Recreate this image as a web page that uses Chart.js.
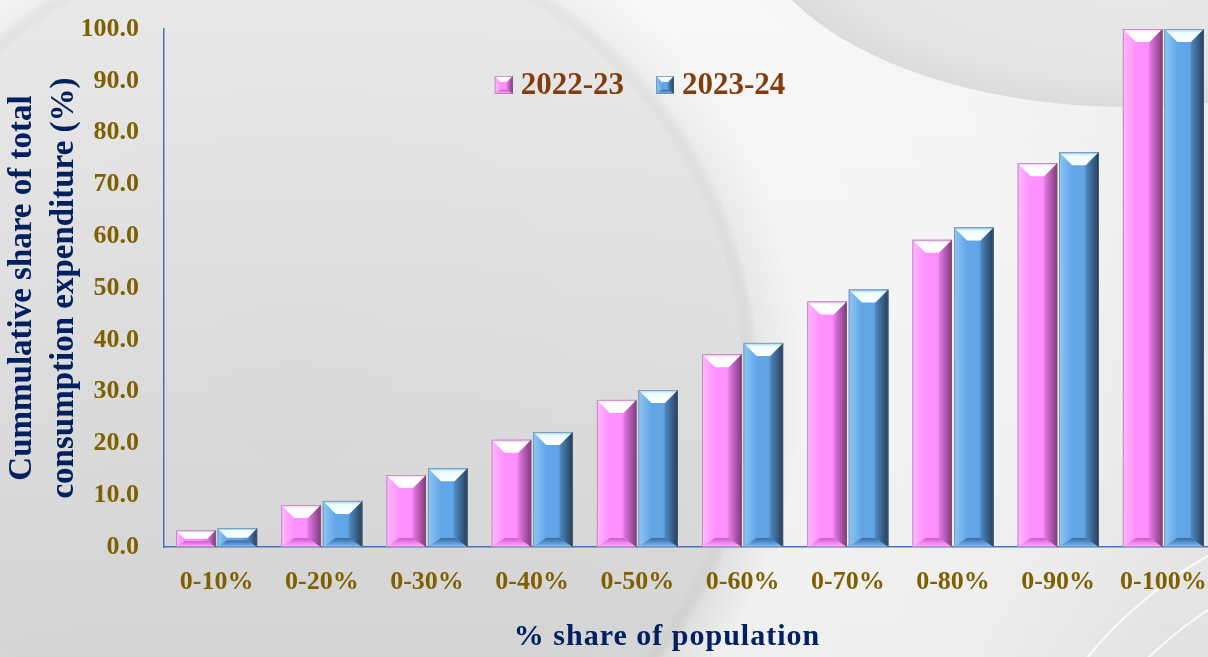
<!DOCTYPE html>
<html>
<head>
<meta charset="utf-8">
<script src="https://cdn.jsdelivr.net/npm/chart.js@4.4.0/dist/chart.umd.min.js"></script>
<style>
  html, body { margin: 0; padding: 0; overflow: hidden; background: #e6e6e6; }
  #wrap { position: relative; width: 1220px; height: 657px; }
</style>
</head>
<body>
<div id="wrap"><canvas id="chart"></canvas></div>
<script>
// data
var categories = ["0-10%", "0-20%", "0-30%", "0-40%", "0-50%", "0-60%", "0-70%", "0-80%", "0-90%", "0-100%"];
var share2022 = [3.2, 8.1, 13.9, 20.7, 28.4, 37.2, 47.4, 59.3, 74.1, 100.0];
var share2023 = [3.6, 8.9, 15.2, 22.2, 30.3, 39.4, 49.7, 61.7, 76.2, 100.0];
var seriesNames = ["2022-23", "2023-24"];
var yTitle = ["Cummulative share of total", "consumption expenditure (%)"];
var xTitle = "% share of population";

var SERIF = '"Liberation Serif", "Times New Roman", serif';
var TICK_COLOR = "#7f6000";
var TITLE_COLOR = "#002060";
var LEGEND_COLOR = "#843c0c";
var AXIS_COLOR = "#4472c4";

var PINK = { base: "#ff90ff", light: "#ffb8ff", mid: "#e87ae8", dark: "#7e3a7a", bottom: "#c060c0", top: "#ffffff" };
var BLUE = { base: "#62a6e8", light: "#8ec6f4", mid: "#4f88c2", dark: "#263f5a", bottom: "#3c6896", top: "#eafcff" };

function bevel(ctx, x0, y0, x1, y1, pal, b) {
    var w = x1 - x0, h = y1 - y0;
    if (w <= 0 || h <= 0) return;
    b = Math.min(b, w / 3, h / 2);
    var bb = b * 0.7;
    var g;

    // face
    g = ctx.createLinearGradient(x0, 0, x1, 0);
    g.addColorStop(0, pal.light);
    g.addColorStop(0.15, pal.base);
    g.addColorStop(0.6, pal.base);
    g.addColorStop(0.8, pal.mid);
    g.addColorStop(1, pal.dark);
    ctx.fillStyle = g;
    ctx.fillRect(x0, y0, w, h);

    // left facet
    g = ctx.createLinearGradient(x0, 0, x0 + b, 0);
    g.addColorStop(0, pal.light);
    g.addColorStop(1, pal.base);
    ctx.fillStyle = g;
    ctx.beginPath();
    ctx.moveTo(x0, y0); ctx.lineTo(x0 + b, y0 + b); ctx.lineTo(x0 + b, y1 - bb); ctx.lineTo(x0, y1);
    ctx.closePath(); ctx.fill();

    // right facet
    g = ctx.createLinearGradient(x1 - b, 0, x1, 0);
    g.addColorStop(0, pal.mid);
    g.addColorStop(1, pal.dark);
    ctx.fillStyle = g;
    ctx.beginPath();
    ctx.moveTo(x1, y0); ctx.lineTo(x1 - b, y0 + b); ctx.lineTo(x1 - b, y1 - bb); ctx.lineTo(x1, y1);
    ctx.closePath(); ctx.fill();

    // bottom facet
    g = ctx.createLinearGradient(0, y1 - bb, 0, y1);
    g.addColorStop(0, pal.bottom);
    g.addColorStop(0.7, pal.base);
    g.addColorStop(1, pal.light);
    ctx.fillStyle = g;
    ctx.beginPath();
    ctx.moveTo(x0, y1); ctx.lineTo(x1, y1); ctx.lineTo(x1 - b, y1 - bb); ctx.lineTo(x0 + b, y1 - bb);
    ctx.closePath(); ctx.fill();

    // top facet
    g = ctx.createLinearGradient(0, y0, 0, y0 + b);
    g.addColorStop(0, pal.light);
    g.addColorStop(0.25, pal.top);
    g.addColorStop(1, "#ffffff");
    ctx.fillStyle = g;
    ctx.beginPath();
    ctx.moveTo(x0, y0); ctx.lineTo(x1, y0); ctx.lineTo(x1 - b, y0 + b); ctx.lineTo(x0 + b, y0 + b);
    ctx.closePath(); ctx.fill();

    ctx.strokeStyle = "rgba(110,110,110,0.6)";
    ctx.lineWidth = 0.8;
    ctx.strokeRect(x0 + 0.4, y0 + 0.4, w - 0.8, h - 0.8);
}

var backdrop = {
    id: "backdrop",
    beforeDraw: function (chart) {
        var ctx = chart.ctx, W = chart.width, H = chart.height, g;
        ctx.save();
        g = ctx.createLinearGradient(0, 0, 0, H);
        g.addColorStop(0, "#ededed");
        g.addColorStop(1, "#d9d9d9");
        ctx.fillStyle = g;
        ctx.fillRect(0, 0, W, H);

        // big soft sphere on the left, lighter outside it
        g = ctx.createRadialGradient(300, 380, 0, 300, 380, 900);
        g.addColorStop(0, "rgba(0,0,0,0.03)");
        g.addColorStop(0.49, "rgba(0,0,0,0.02)");
        g.addColorStop(0.51, "rgba(255,255,255,0.15)");
        g.addColorStop(0.56, "rgba(255,255,255,0.6)");
        g.addColorStop(0.8, "rgba(255,255,255,0.55)");
        g.addColorStop(1, "rgba(255,255,255,0.25)");
        ctx.fillStyle = g;
        ctx.fillRect(0, 0, W, H);

        // grey lobe top right
        ctx.save();
        ctx.translate(1130, -90);
        ctx.scale(380 / 197, 1);
        g = ctx.createRadialGradient(0, 0, 0, 0, 0, 197);
        g.addColorStop(0, "#ebebeb");
        g.addColorStop(0.85, "#e4e4e4");
        g.addColorStop(1, "#dbdbdb");
        ctx.fillStyle = g;
        ctx.beginPath();
        ctx.arc(0, 0, 197, 0, Math.PI * 2);
        ctx.fill();
        ctx.restore();

        // thin white arcs bottom right
        ctx.strokeStyle = "rgba(255,255,255,0.85)";
        ctx.lineWidth = 2;
        ctx.beginPath();
        ctx.arc(1420, 930, 430, Math.PI * 1.02, Math.PI * 1.5);
        ctx.stroke();
        ctx.beginPath();
        ctx.arc(1440, 960, 420, Math.PI * 1.02, Math.PI * 1.5);
        ctx.stroke();
        ctx.restore();
    }
};

var bevelBars = {
    id: "bevelBars",
    afterDatasetsDraw: function (chart) {
        var ctx = chart.ctx;
        var pals = [PINK, BLUE];
        ctx.save();
        chart.data.datasets.forEach(function (ds, i) {
            var meta = chart.getDatasetMeta(i);
            meta.data.forEach(function (el) {
                var p = el.getProps(["x", "y", "base", "width"], true);
                bevel(ctx, p.x - p.width / 2, p.y, p.x + p.width / 2, p.base, pals[i], 13);
            });
        });
        ctx.restore();
    }
};

var legendBox = {
    id: "legendBox",
    afterDraw: function (chart) {
        var ctx = chart.ctx;
        var pals = [PINK, BLUE];
        var box = 18, gap = 8, spacing = 32, cx = 640, cy = 85;
        ctx.save();
        ctx.font = "bold 31px " + SERIF;
        var widths = chart.data.datasets.map(function (ds) { return ctx.measureText(ds.label).width; });
        var total = 0;
        widths.forEach(function (w, i) { total += box + gap + w + (i ? spacing : 0); });
        var x = cx - total / 2;
        ctx.textBaseline = "middle";
        ctx.textAlign = "left";
        chart.data.datasets.forEach(function (ds, i) {
            bevel(ctx, x, cy - box / 2, x + box, cy + box / 2, pals[i], 7);
            ctx.fillStyle = LEGEND_COLOR;
            ctx.fillText(ds.label, x + box + gap, cy + 1);
            x += box + gap + widths[i] + spacing;
        });
        ctx.restore();
    }
};

var bottomTitle = {
    id: "bottomTitle",
    afterDraw: function (chart) {
        var ctx = chart.ctx;
        ctx.save();
        ctx.font = "bold 30px " + SERIF;
        ctx.letterSpacing = "1px";
        ctx.fillStyle = TITLE_COLOR;
        ctx.textAlign = "center";
        ctx.textBaseline = "middle";
        ctx.fillText(xTitle, 667, 637);
        ctx.restore();
    }
};

new Chart(document.getElementById("chart"), {
    type: "bar",
    data: {
        labels: categories,
        datasets: [
            { label: seriesNames[0], data: share2022, backgroundColor: PINK.base, borderWidth: 0,
              barPercentage: 0.952, categoryPercentage: 0.789 },
            { label: seriesNames[1], data: share2023, backgroundColor: BLUE.base, borderWidth: 0,
              barPercentage: 0.952, categoryPercentage: 0.789 }
        ]
    },
    options: {
        responsive: true,
        maintainAspectRatio: false,
        animation: false,
        layout: { padding: { top: 29, right: 4, left: 0, bottom: 0 } },
        plugins: {
            legend: { display: false },
            tooltip: { enabled: false }
        },
        scales: {
            x: {
                grid: { display: false, drawTicks: false },
                border: { display: true, color: AXIS_COLOR, width: 1.5 },
                ticks: {
                    color: TICK_COLOR,
                    font: { family: SERIF, size: 26, weight: "bold" },
                    padding: 20, autoSkip: false, maxRotation: 0
                },
                afterFit: function (s) {
                    s.height = 110;
                    s.paddingLeft = 0;
                    s.paddingRight = 0;
                }
            },
            y: {
                min: 0,
                max: 100,
                grid: { display: false, drawTicks: false },
                border: { display: true, color: AXIS_COLOR, width: 1.5 },
                ticks: {
                    stepSize: 10,
                    color: TICK_COLOR,
                    font: { family: SERIF, size: 26, weight: "bold" },
                    padding: 25,
                    callback: function (v) { return v.toFixed(1); }
                },
                title: {
                    display: true,
                    text: yTitle,
                    color: TITLE_COLOR,
                    font: { family: SERIF, size: 33, weight: "bold", lineHeight: 1.28 },
                    padding: { top: 1, bottom: 0 }
                },
                afterFit: function (s) {
                    s.width = 164;
                    s.paddingTop = 0;
                    s.paddingBottom = 0;
                }
            }
        }
    },
    plugins: [backdrop, bevelBars, legendBox, bottomTitle]
});
</script>
</body>
</html>
